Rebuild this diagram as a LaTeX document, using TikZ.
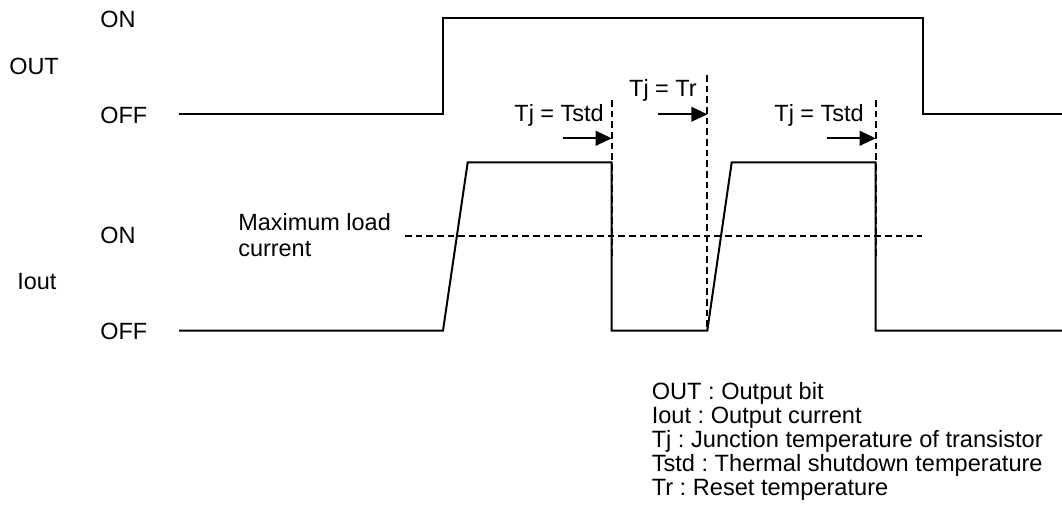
\documentclass[tikz,border=0pt]{standalone}
\usepackage{fontspec}
\setmainfont{Liberation Sans}
\usetikzlibrary{arrows.meta}
\frenchspacing
\begin{document}
\begin{tikzpicture}[x=0.75pt,y=-0.75pt,
  wave/.style={line width=1.5pt, line join=miter},
  refline/.style={line width=1.4pt, dash pattern=on 5pt off 3pt},
  lbl/.style={inner sep=0pt, anchor=west, font=\fontsize{17.6}{19.5}\selectfont},
  tlbl/.style={inner sep=0pt, anchor=east, font=\fontsize{17.6}{19.5}\selectfont},
  tarrow/.style={line width=1.4pt, -{Triangle[length=12pt,width=11pt]}}]
\useasboundingbox (0,0) rectangle (1062,508);

% axis labels
\node[lbl] (onA)  at (100,19)  {ON};
\node[lbl] (outL) at (9,66)    {OUT};
\node[lbl] (offA) at (100,115) {OFF};
\node[lbl] (onB)  at (100,235) {ON};
\node[lbl] (ioutL) at (17,282) {Iout};
\node[lbl] (offB) at (100,331) {OFF};
\node[lbl, align=left] (maxL) at (238,235) {Maximum load\\current};

% OUT waveform
\coordinate (o0) at (179,114);
\coordinate (o1) at (443,114);
\coordinate (o2) at (443,18);
\coordinate (o3) at (923,18);
\coordinate (o4) at (923,114);
\coordinate (o5) at (1062,114);
\draw[wave] (o0) -- (o1) -- (o2) -- (o3) -- (o4) -- (o5);

% Iout waveform
\coordinate (i0) at (179,330.5);
\coordinate (i1) at (443,330.5);
\coordinate (i2) at (467.7,162.3);
\coordinate (i3) at (611.7,162.3);
\coordinate (i4) at (611.7,330.5);
\coordinate (i5) at (707.3,330.5);
\coordinate (i6) at (731.7,162.3);
\coordinate (i7) at (875.7,162.3);
\coordinate (i8) at (875.7,330.5);
\coordinate (i9) at (1062,330.5);
\draw[wave] (i0) -- (i1) -- (i2) -- (i3) -- (i4) -- (i5) -- (i6) -- (i7) -- (i8) -- (i9);

% maximum load current line
\coordinate (m0) at (405,236.3);
\coordinate (m1) at (921.7,236.3);
\draw[refline] (m0) -- (m1);

% vertical reference lines
\coordinate (v1t) at (611.7,100);  \coordinate (v1b) at (611.7,257);
\coordinate (v2t) at (707.3,75);   \coordinate (v2b) at (707.3,330);
\coordinate (v3t) at (875.7,100);  \coordinate (v3b) at (875.7,257);
\draw[refline] (v1t) -- (v1b);
\draw[refline] (v2t) -- (v2b);
\draw[refline] (v3t) -- (v3b);

% arrows
\coordinate (a1s) at (562.7,138.3); \coordinate (a1e) at (611.7,138.3);
\coordinate (a2s) at (658,114.3);   \coordinate (a2e) at (707.3,114.3);
\coordinate (a3s) at (826.7,138.3); \coordinate (a3e) at (875.7,138.3);
\draw[tarrow] (a1s) -- (a1e);
\draw[tarrow] (a2s) -- (a2e);
\draw[tarrow] (a3s) -- (a3e);

% temperature labels
\node[tlbl] (t1) at (604,115) {Tj = Tstd};
\node[tlbl] (t2) at (697,90)  {Tj = Tr};
\node[tlbl] (t3) at (864,115) {Tj = Tstd};

% legend
\node[inner sep=0pt, anchor=north west, align=left, font=\fontsize{17.7}{18}\selectfont] (legend) at (651.5,382)
  {OUT : Output bit\\
   Iout : Output current\\
   Tj : Junction temperature of transistor\\
   Tstd : Thermal shutdown temperature\\
   Tr : Reset temperature};
\end{tikzpicture}
\end{document}
